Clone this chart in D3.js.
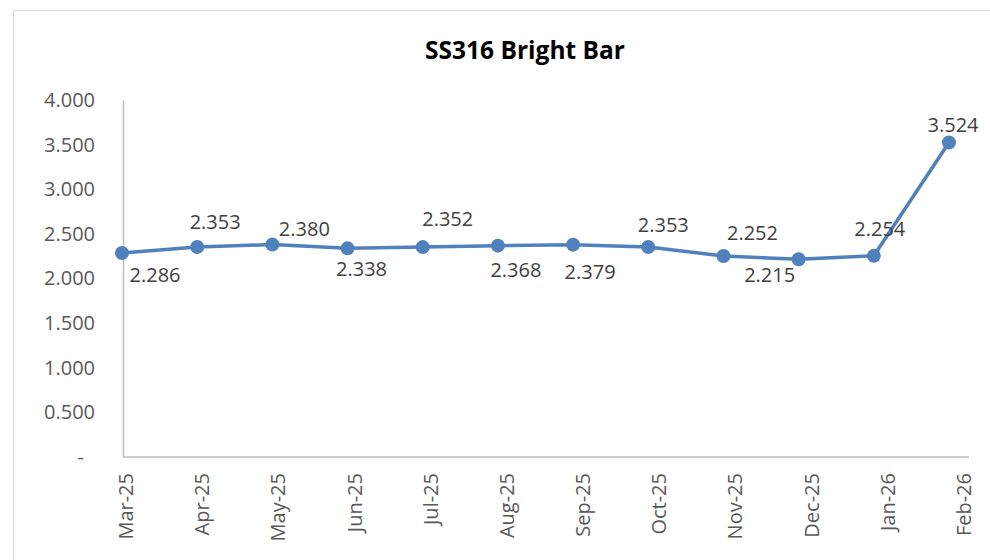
<!DOCTYPE html>
<html>
<head>
<meta charset="utf-8">
<script src="https://cdn.jsdelivr.net/npm/d3@7"></script>
<style>
	html, body { margin: 0; padding: 0; background: #fff; }
	svg { display: block; font-family: 'Open Sans', sans-serif; }
</style>
</head>
<body>
<div id="chart"></div>
<script>

const MONTHS = ['Mar-25', 'Apr-25', 'May-25', 'Jun-25', 'Jul-25', 'Aug-25',
		'Sep-25', 'Oct-25', 'Nov-25', 'Dec-25', 'Jan-26', 'Feb-26'],
	PRICES = [2.286, 2.353, 2.380, 2.338, 2.352, 2.368, 2.379, 2.353, 2.252, 2.215, 2.254, 3.524],
	Y_TICKS = [0, 0.5, 1, 1.5, 2, 2.5, 3, 3.5, 4],
	TITLE = 'SS316 Bright Bar';

// label placement, roughly where excel dropped them (dx, dy from the point)
const LABEL_OFFSETS = [
	[33, 22], [18, -25], [32, -16], [14, 20], [25, -29], [18, 24],
	[17, 27], [15, -22], [29, -24], [-29, 15], [6, -27], [4, -18]
];

const W = 990,
	H = 560,
	LINE_COLOR = '#4f81bd',
	AXIS_COLOR = '#bfbfbf',
	TEXT_COLOR = '#595959',
	FONT_SIZE = 20;

let svg = d3.select('#chart').append('svg')
	.attr('width', W)
	.attr('height', H);

// chart frame (only top/left edges are inside the picture)
svg.append('rect')
	.attr('x', 13.5)
	.attr('y', 10.5)
	.attr('width', W + 20)
	.attr('height', H + 20)
	.attr('fill', 'none')
	.attr('stroke', '#d9d9d9');

svg.append('text')
	.attr('x', 525)
	.attr('y', 59)
	.attr('text-anchor', 'middle')
	.attr('font-size', 24.5)
	.attr('font-weight', 'bold')
	.attr('fill', '#000')
	.text(TITLE);

let x = d3.scalePoint()
	.domain(MONTHS)
	.range([122, 949]);

let y = d3.scaleLinear()
	.domain([0, 4])
	.range([457, 100]);

// y axis: line + labels, no gridlines
let yAxis = svg.append('g')
	.attr('transform', 'translate(123,0)')
	.call(d3.axisLeft(y)
		.tickValues(Y_TICKS)
		.tickSize(0)
		.tickPadding(28)
		.tickFormat(d => d === 0 ? '-' : d3.format('.3f')(d)));

yAxis.select('.domain').attr('stroke', AXIS_COLOR).attr('stroke-width', 1.5);
yAxis.selectAll('text')
	.attr('font-size', FONT_SIZE)
	.attr('fill', TEXT_COLOR)
	.attr('font-family', "'Open Sans', sans-serif");

// accounting-style zero dash sits further left
yAxis.selectAll('.tick text')
	.filter(d => d === 0)
	.attr('dx', -11);

// x axis with rotated month labels
let xAxis = svg.append('g')
	.attr('transform', 'translate(0,457)')
	.call(d3.axisBottom(x).tickSize(0).tickPadding(0));

xAxis.select('.domain')
	.attr('d', 'M123,0H969')
	.attr('stroke', AXIS_COLOR)
	.attr('stroke-width', 1.5);

xAxis.selectAll('.tick text')
	.attr('font-size', FONT_SIZE)
	.attr('fill', TEXT_COLOR)
	.attr('font-family', "'Open Sans', sans-serif")
	.attr('text-anchor', 'end')
	.attr('dy', null)
	.attr('transform', (d, i) => 'translate(' + (3 + i * 1) + ',16) rotate(-90)')
	.attr('dominant-baseline', 'central');

let line = d3.line()
	.x((d, i) => x(MONTHS[i]))
	.y(d => y(d));

svg.append('path')
	.datum(PRICES)
	.attr('d', line)
	.attr('fill', 'none')
	.attr('stroke', LINE_COLOR)
	.attr('stroke-width', 3.5)
	.attr('stroke-linejoin', 'round');

svg.append('g').selectAll('circle')
	.data(PRICES)
	.join('circle')
	.attr('cx', (d, i) => x(MONTHS[i]))
	.attr('cy', d => y(d))
	.attr('r', 7)
	.attr('fill', LINE_COLOR);

svg.append('g').selectAll('text')
	.data(PRICES)
	.join('text')
	.attr('x', (d, i) => x(MONTHS[i]) + LABEL_OFFSETS[i][0])
	.attr('y', (d, i) => y(d) + LABEL_OFFSETS[i][1])
	.attr('text-anchor', 'middle')
	.attr('dominant-baseline', 'central')
	.attr('font-size', FONT_SIZE)
	.attr('fill', '#404040')
	.text(d => d3.format('.3f')(d));

</script>
</body>
</html>
